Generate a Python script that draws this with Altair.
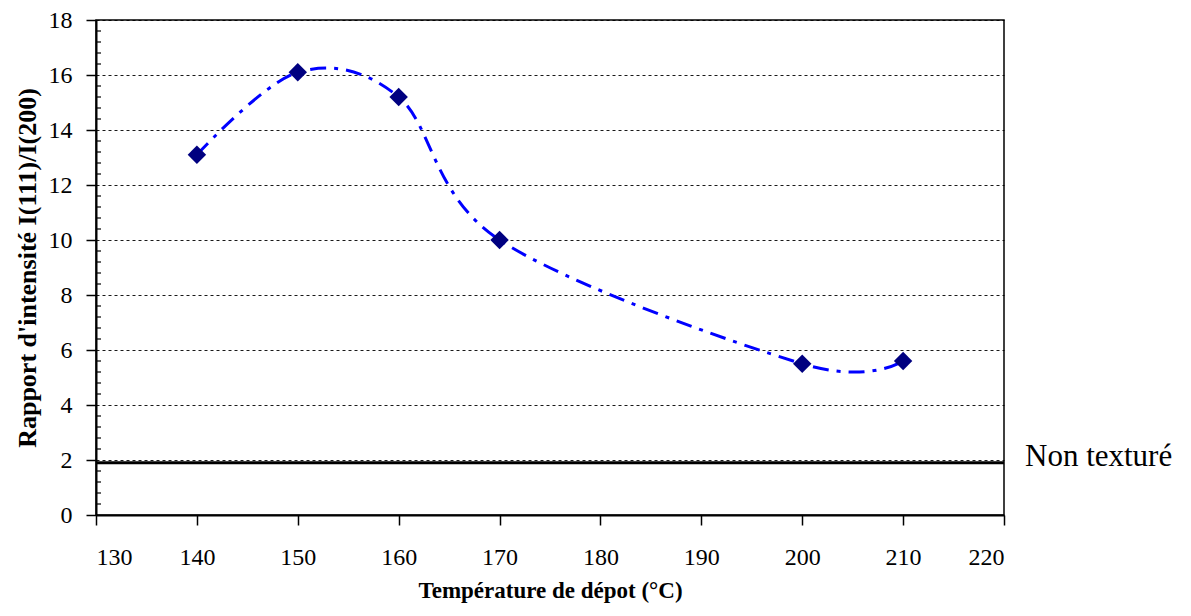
import altair as alt
import pandas as pd

# ---- data ----
temps = [140, 150, 160, 170, 200, 210]
ratios = [13.1, 16.1, 15.2, 10.0, 5.5, 5.6]
x_ticks = [130, 140, 150, 160, 170, 180, 190, 200, 210, 220]
y_ticks = [0, 2, 4, 6, 8, 10, 12, 14, 16, 18]
minor_y = [0.4, 0.8, 1.2, 1.6, 2.4, 2.8, 3.2, 3.6, 4.4, 4.8, 5.2, 5.6,
           6.4, 6.8, 7.2, 7.6, 8.4, 8.8, 9.2, 9.6, 10.4, 10.8, 11.2, 11.6,
           12.4, 12.8, 13.2, 13.6, 14.4, 14.8, 15.2, 15.6, 16.4, 16.8, 17.2, 17.6]
non_texture_level = [1.9]
non_texture_label = ["Non texturé"]
label_x = [220]

FONT = "Liberation Serif"

df = pd.DataFrame({"T": temps, "R": ratios})
df_level = pd.DataFrame({"R": non_texture_level})
df_minor = pd.DataFrame({"R": minor_y})
df_label = pd.DataFrame({"t": non_texture_label, "T": label_x, "R": non_texture_level})

xscale = alt.Scale(domain=[130, 220], nice=False, zero=False)
yscale = alt.Scale(domain=[0, 18], nice=False, zero=True)

common_axis = dict(
    domainColor="black", domainWidth=2, tickColor="black", tickWidth=1.5,
    labelFont=FONT, labelFontSize=24, labelColor="black",
    titleFont=FONT, titleFontWeight="bold", titleColor="black",
    format="d", tickSize=10,
)

xaxis = alt.Axis(values=x_ticks, title="Température de dépot (°C)", grid=False,
                 labelPadding=20, titlePadding=10, titleFontSize=23, **common_axis)
yaxis = alt.Axis(values=y_ticks, title="Rapport d'intensité I(111)/I(200)", grid=True,
                 gridDash=[3, 3], gridColor="black", gridWidth=1, gridOpacity=0.9,
                 labelPadding=14, titlePadding=8, titleFontSize=26, **common_axis)

X = alt.X("T:Q", scale=xscale, axis=xaxis)
Y = alt.Y("R:Q", scale=yscale, axis=yaxis)

curve = alt.Chart(df).mark_line(
    interpolate="cardinal", tension=0, color="#0000FF", strokeWidth=3,
    strokeDash=[16, 8, 4, 8]
).encode(x=X, y=Y)

level = alt.Chart(df_level).mark_rule(color="black", strokeWidth=3).encode(y=Y)

minor = alt.Chart(df_minor).mark_rule(color="black", strokeWidth=1.2).encode(
    y=Y, x=alt.value(0), x2=alt.value(5),
)

points = alt.Chart(df).mark_point(
    shape="diamond", filled=True, size=340, color="#000080", opacity=1
).encode(x=X, y=Y)

label = alt.Chart(df_label).mark_text(
    align="left", baseline="middle", dx=21, dy=-6, font=FONT, fontSize=31,
    color="black", clip=False
).encode(x=X, y=Y, text="t:N")

chart = alt.layer(curve, level, minor, points, label).properties(
    width=908, height=495,
    autosize=alt.AutoSizeParams(type="none"),
    padding={"left": 88, "top": 12, "right": 179, "bottom": 93},
    background="white",
).configure_view(
    stroke="black", strokeWidth=1.5
).configure_axis(
    labelFont=FONT, titleFont=FONT,
)

chart.save("out.html", embed_options={"renderer": "svg", "actions": False})
